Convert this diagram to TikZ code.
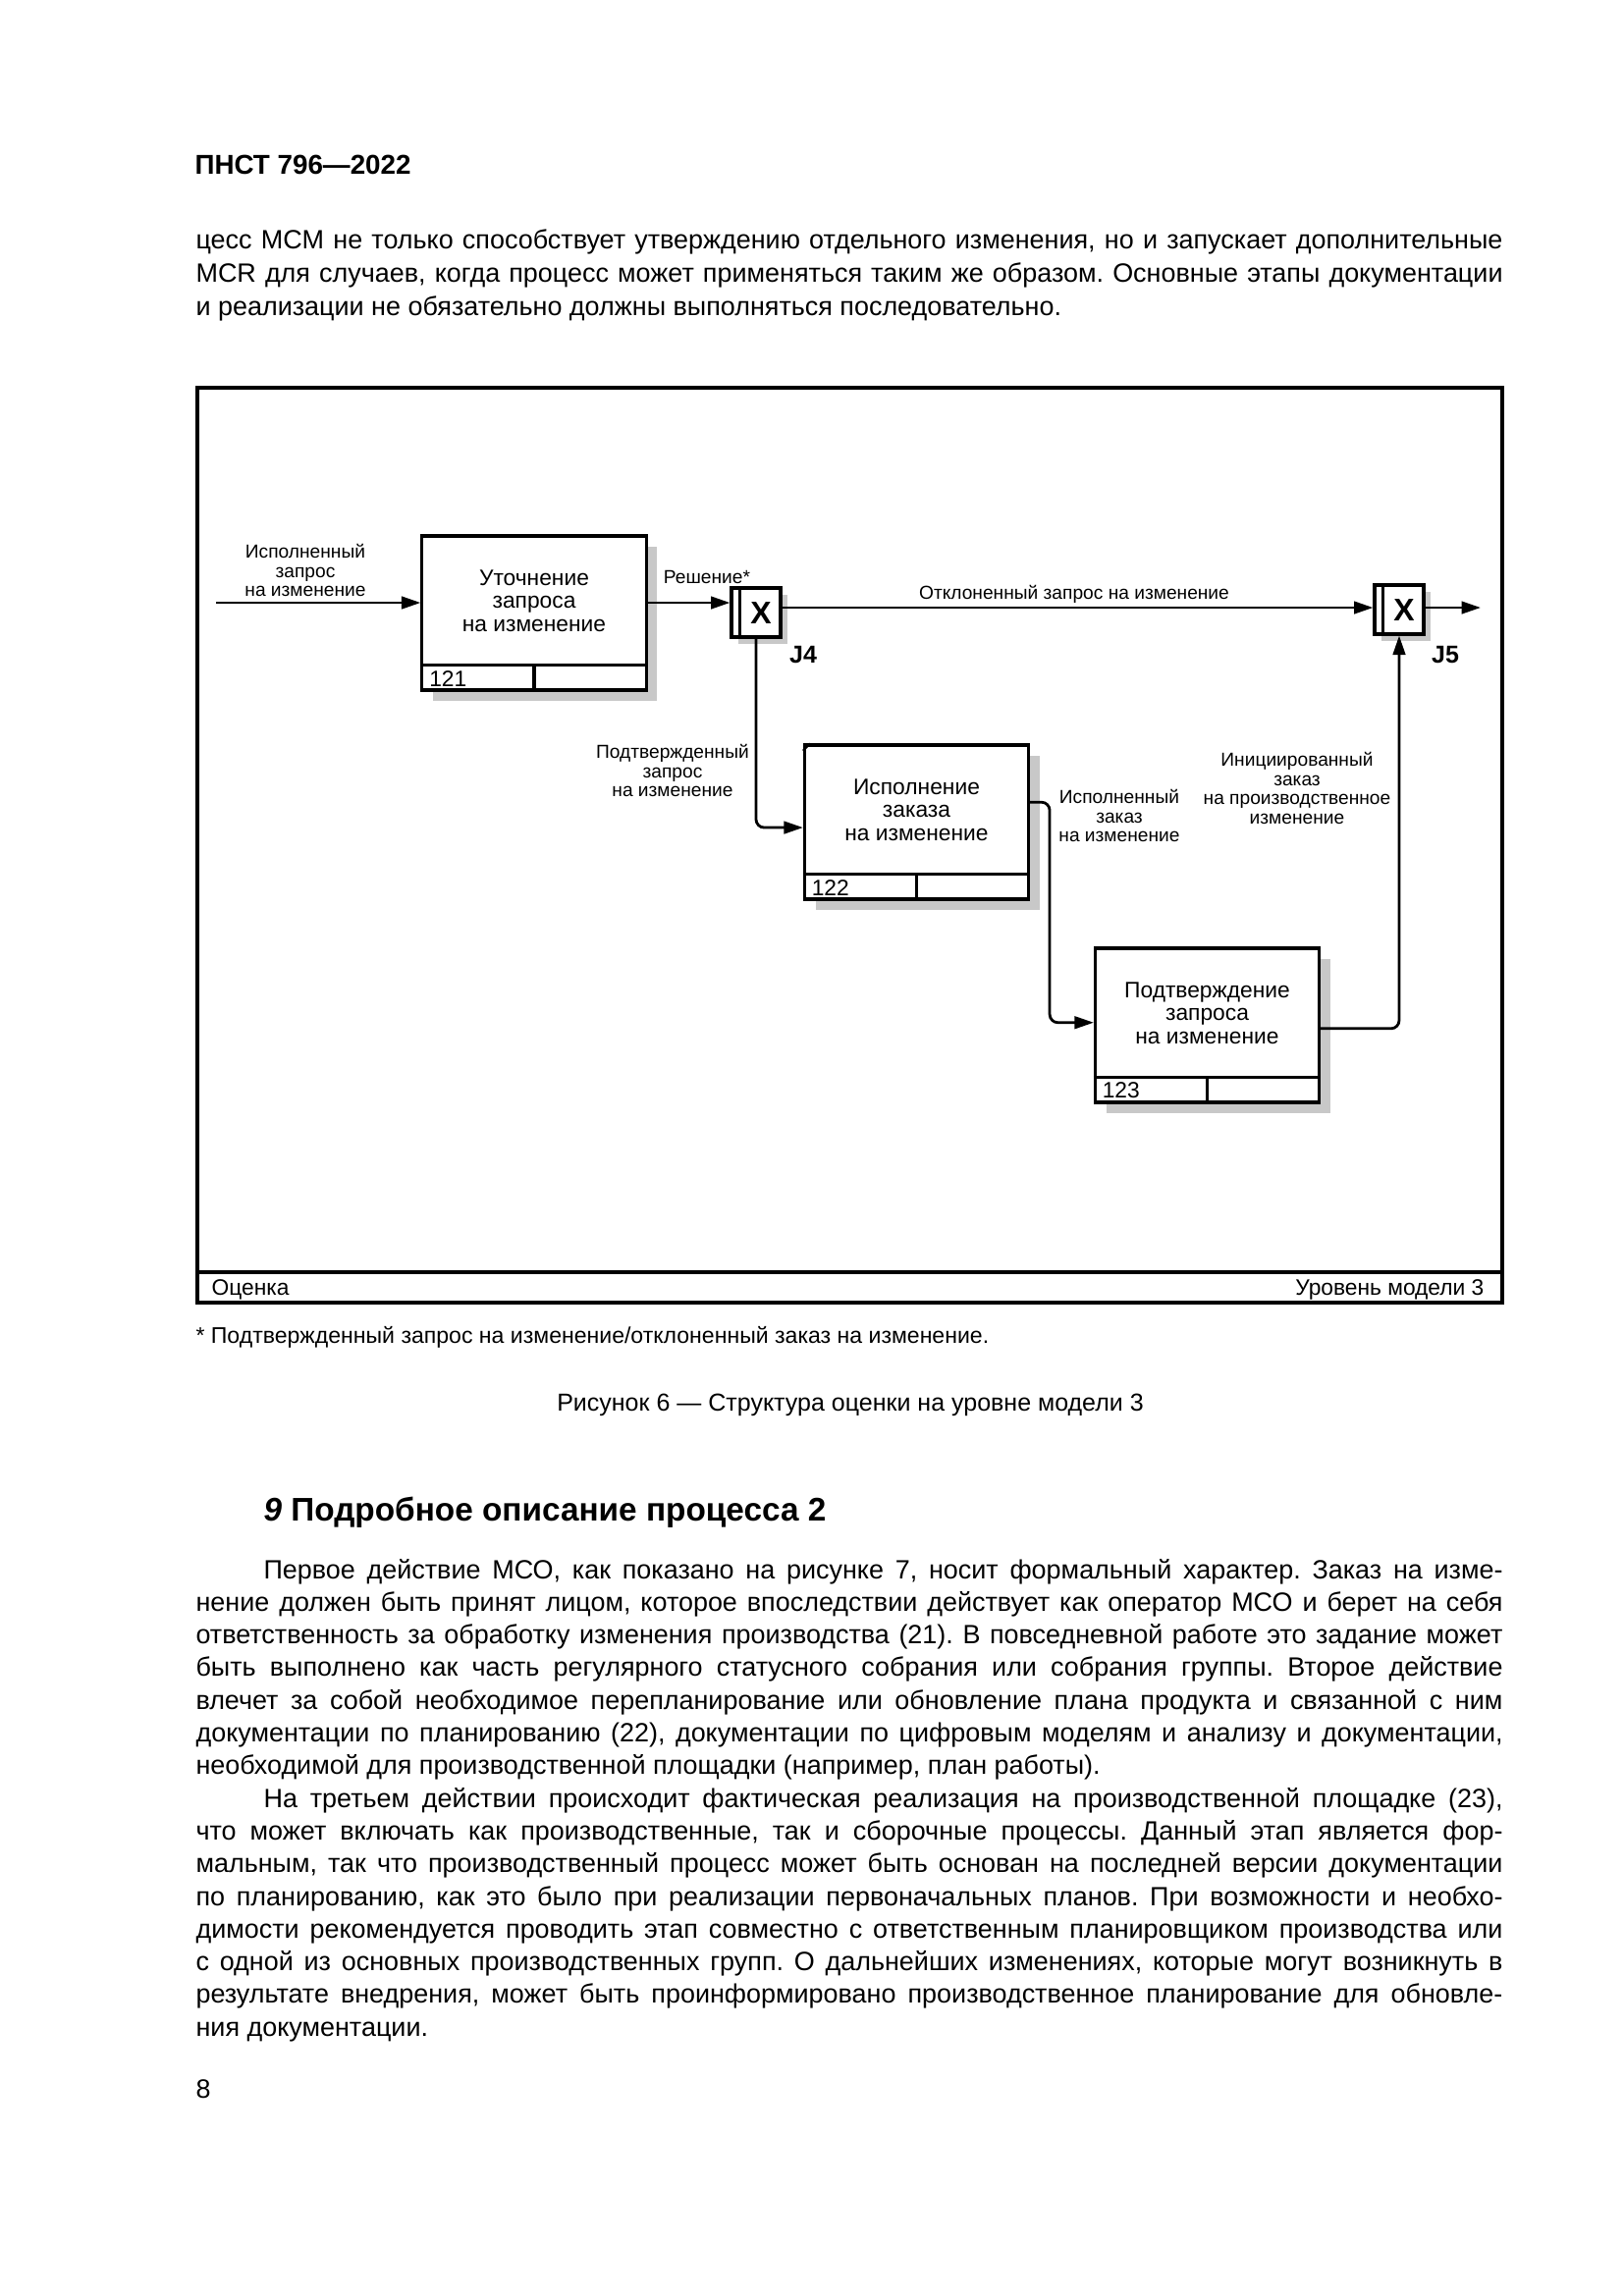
\documentclass[tikz,border=0pt]{standalone}
\usepackage{fontspec}
\setmainfont{Liberation Sans}
\usepackage{graphicx}
\usetikzlibrary{arrows.meta,shadows}
\frenchspacing

\definecolor{shadowgray}{HTML}{C8C8C8}

% one justified line of the page text
\newsavebox\fitbox
\newcommand\fitline[2]{%
  \sbox\fitbox{#2}%
  \ifdim\wd\fitbox>#1\relax
    \resizebox{#1}{\ht\fitbox}{\usebox\fitbox}%
  \else
    \makebox[#1][s]{#2}%
  \fi}

\tikzset{
  actbox/.style={draw, line width=1.1pt, fill=white, minimum width=82.1pt,
    minimum height=56.5pt, inner sep=0pt,
    drop shadow={shadow xshift=4pt, shadow yshift=-4pt, fill=shadowgray, opacity=1}},
  junc/.style={draw, line width=1.1pt, fill=white, minimum size=18pt, inner sep=0pt,
    drop shadow={shadow xshift=2.5pt, shadow yshift=-2.5pt, fill=shadowgray, opacity=1}},
  arr/.style={line width=1pt, -{Triangle[length=7pt,width=4.5pt]}},
  boxline/.style={line width=1.1pt},
  lbl/.style={font=\fontsize{6.9}{7.1}\selectfont, align=center, inner sep=0pt},
  acttext/.style={font=\fontsize{8.2}{8.5}\selectfont, align=center, inner sep=0pt},
  numtext/.style={font=\fontsize{8.2}{8.5}\selectfont, inner sep=0pt},
  jlbl/.style={font=\bfseries\fontsize{9}{10}\selectfont, inner sep=0pt},
  body/.style={font=\fontsize{9.7}{12}\selectfont, anchor=base west, inner sep=0pt},
}

\begin{document}
\begin{tikzpicture}[x=0.3599pt, y=-0.3599pt]
    \useasboundingbox[fill=white] (0,0) rectangle (1654,2339);
    %
    \node[anchor=base west, inner sep=0pt, font=\bfseries\fontsize{10}{12}\selectfont] (head) at (198,177) {ПНСТ 796—2022};
    %
    \node[body] (t1) at (199,253) {\fitline{479pt}{цесс MCM не только способствует утверждению отдельного изменения, но и запускает дополнительные}};
    \node[body] (t2) at (199,287) {\fitline{479pt}{MCR для случаев, когда процесс может применяться таким же образом. Основные этапы документации}};
    \node[body] (t3) at (199,321) {и реализации не обязательно должны выполняться последовательно.};
    %%%%%%%%%%%%%%%%%%%%%% frame
    \draw[line width=1.5pt] (201,395) rectangle (1530,1327);
    \draw[line width=1.2pt] (201,1296) -- (1530,1296);
    \node[numtext, anchor=base west] (ocen) at (215,1319) {Оценка};
    \node[numtext, anchor=base east] (level) at (1512,1319) {Уровень модели 3};
    %%%%%%%%%%%%%%%%%%%%%% activities
    \foreach \nm/\cx/\cy/\txt in {121/544/624.5/{Уточнение\\запроса\\на изменение},
        122/933.5/837.5/{Исполнение\\заказа\\на изменение},
        123/1229.5/1044.5/{Подтверждение\\запроса\\на изменение}} {
      \node[actbox] (b\nm) at (\cx,\cy) {};
      \node[acttext] (txt\nm) at ([yshift=4.5pt]b\nm.center) {\txt};
      \draw[boxline] ([yshift=9.7pt]b\nm.south west) -- ([yshift=9.7pt]b\nm.south east);
      \draw[boxline] ([yshift=9.7pt]b\nm.south) -- (b\nm.south);
      \node[numtext, anchor=west] (num\nm) at ([xshift=3pt,yshift=4.85pt]b\nm.south west) {\nm};
    }
    \draw[line width=0.8pt] ([yshift=-2.6pt]b122.north west) -- ([xshift=2.6pt]b122.north west);
    %%%%%%%%%%%%%%%%%%%%%% junctions
    \foreach \jn/\cx/\cy in {j4/770/624, j5/1425/621} {
      \node[junc] (\jn) at (\cx,\cy) {};
      \draw[boxline] ([xshift=3.6pt]\jn.north west) -- ([xshift=3.6pt]\jn.south west);
      \node[font=\bfseries\fontsize{11.5}{12}\selectfont, inner sep=0pt] (x\jn) at ([xshift=1.8pt]\jn.center) {X};
    }
    \node[jlbl] (lj4) at (818,667) {J4};
    \node[jlbl] (lj5) at (1472,667) {J5};
    %%%%%%%%%%%%%%%%%%%%%% arrows
    \coordinate (inp) at (220,614);
    \coordinate (rej) at (1100,619);
    \coordinate (outp) at (1508,619);
    \draw[arr] (inp) -- (inp -| b121.west);
    \draw[arr] (inp -| b121.east) -- (inp -| j4.west);
    \draw[arr] (j4.east |- rej) -- (j5.west |- rej);
    \draw[arr] (j5.east |- outp) -- (outp);
    \draw[arr, rounded corners=3pt] (j4.south) |- ([yshift=-2pt]b122.west);
    \draw[arr, rounded corners=3pt] ([yshift=7.3pt]b122.east) -- ++(7.2pt,0) |- ([yshift=1pt]b123.west);
    \draw[arr, rounded corners=3pt] ([yshift=-1.2pt]b123.east) -| (j5.south);
    %%%%%%%%%%%%%%%%%%%%%% arrow labels
    \node[lbl] (lin) at (311,581) {Исполненный\\запрос\\на изменение};
    \node[lbl] (ldec) at (720,588) {Решение*};
    \node[lbl] (lrej) at (1094,605) {Отклоненный запрос на изменение};
    \node[lbl] (lconf) at (685,785) {Подтвержденный\\запрос\\на изменение};
    \node[lbl] (ldone) at (1140,831) {Исполненный\\заказ\\на изменение};
    \node[lbl] (linit) at (1321,803) {Инициированный\\заказ\\на производственное\\изменение};
    %%%%%%%%%%%%%%%%%%%%%% notes
    \node[anchor=base west, inner sep=0pt, font=\fontsize{8.3}{10}\selectfont] (fn) at (199,1368) {* Подтвержденный запрос на изменение/отклоненный заказ на изменение.};
    \node[anchor=base, inner sep=0pt, font=\fontsize{9}{11}\selectfont] (cap) at (866,1437) {Рисунок 6 — Структура оценки на уровне модели 3};
    %%%%%%%%%%%%%%%%%%%%%% section 9
    \node[anchor=base west, inner sep=0pt, font=\bfseries\fontsize{12}{14}\selectfont] (sec) at (268,1549) {\textit{9} Подробное описание процесса 2};
    %
    \node[body] (p1) at (268,1608) {\fitline{454.2pt}{Первое действие МСО, как показано на рисунке 7, носит формальный характер. Заказ на изме-}};
    \node[body] (p2) at (199,1641.3) {\fitline{479pt}{нение должен быть принят лицом, которое впоследствии действует как оператор МСО и берет на себя}};
    \node[body] (p3) at (199,1674.6) {\fitline{479pt}{ответственность за обработку изменения производства (21). В повседневной работе это задание может}};
    \node[body] (p4) at (199,1707.9) {\fitline{479pt}{быть выполнено как часть регулярного статусного собрания или собрания группы. Второе действие}};
    \node[body] (p5) at (199,1741.2) {\fitline{479pt}{влечет за собой необходимое перепланирование или обновление плана продукта и связанной с ним}};
    \node[body] (p6) at (199,1774.5) {\fitline{479pt}{документации по планированию (22), документации по цифровым моделям и анализу и документации,}};
    \node[body] (p7) at (199,1807.8) {необходимой для производственной площадки (например, план работы).};
    %
    \node[body] (q1) at (268,1841.1) {\fitline{454.2pt}{На третьем действии происходит фактическая реализация на производственной площадке (23),}};
    \node[body] (q2) at (199,1874.4) {\fitline{479pt}{что может включать как производственные, так и сборочные процессы. Данный этап является фор-}};
    \node[body] (q3) at (199,1907.7) {\fitline{479pt}{мальным, так что производственный процесс может быть основан на последней версии документации}};
    \node[body] (q4) at (199,1941) {\fitline{479pt}{по планированию, как это было при реализации первоначальных планов. При возможности и необхо-}};
    \node[body] (q5) at (199,1974.3) {\fitline{479pt}{димости рекомендуется проводить этап совместно с ответственным планировщиком производства или}};
    \node[body] (q6) at (199,2007.6) {\fitline{479pt}{с одной из основных производственных групп. О дальнейших изменениях, которые могут возникнуть в}};
    \node[body] (q7) at (199,2040.9) {\fitline{479pt}{результате внедрения, может быть проинформировано производственное планирование для обновле-}};
    \node[body] (q8) at (199,2074.2) {ния документации.};
    %
    \node[body] (page) at (199,2137) {8};
\end{tikzpicture}
\end{document}
